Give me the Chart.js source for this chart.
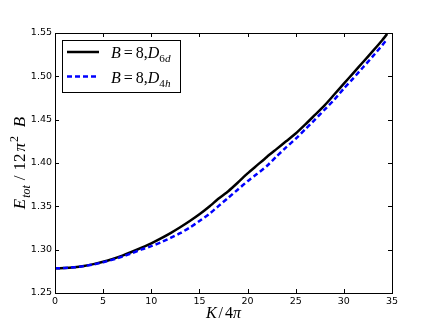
<!DOCTYPE html>
<html lang="en">
<head>
  <meta charset="UTF-8">
  <title>Energy vs K</title>
  <script src="https://cdn.jsdelivr.net/npm/chart.js"></script>
  <style>
    body { margin: 0; background: #fff; }
    #wrap { width: 436px; height: 327px; position: relative; }
  </style>
</head>
<body>
  <div id="wrap"><canvas id="chart" width="436" height="327"></canvas></div>

  <script>
    // K/4pi values (x axis)
    const kValues = [0, 1, 2, 3, 4, 5, 6, 7, 8, 9, 10, 11, 12, 13, 14, 15, 16, 17, 18,
                     19, 20, 21, 22, 23, 24, 25, 26, 27, 28, 29, 30, 31, 32, 33, 34, 34.5];
    // B=8, D6d (black solid)
    const d6dValues = [1.2785, 1.2788, 1.2797, 1.2812, 1.2833, 1.2860, 1.2893, 1.2932, 1.2976, 1.3023,
                       1.3073, 1.3130, 1.3191, 1.3258, 1.3330, 1.3408, 1.3495, 1.3590, 1.3675, 1.3775,
                       1.3880, 1.3975, 1.4070, 1.4160, 1.4250, 1.4340, 1.4445, 1.4555, 1.4665, 1.4790,
                       1.4915, 1.5040, 1.5165, 1.5290, 1.5420, 1.5490];
    // B=8, D4h (blue dashed)
    const d4hValues = [1.2785, 1.2788, 1.2796, 1.2810, 1.2830, 1.2855, 1.2885, 1.2920, 1.2960, 1.3003,
                       1.3040, 1.3085, 1.3135, 1.3190, 1.3255, 1.3330, 1.3410, 1.3505, 1.3600, 1.3695,
                       1.3790, 1.3875, 1.3965, 1.4075, 1.4180, 1.4280, 1.4390, 1.4500, 1.4615, 1.4730,
                       1.4860, 1.4980, 1.5105, 1.5230, 1.5360, 1.5430];
    const yTicks = [1.25, 1.30, 1.35, 1.40, 1.45, 1.50, 1.55];
    const xTicks = [0, 5, 10, 15, 20, 25, 30, 35];

    const toPoints = (ys) => kValues.map((k, i) => ({ x: k, y: ys[i] }));

    const SERIF = '"Liberation Serif", "DejaVu Serif", serif';

    // draw a run of text pieces: {t, it, sub, sup, gap}
    function drawRich(ctx, parts, x, y, size) {
      let cx = x;
      parts.forEach(p => {
        const s = (p.sub || p.sup) ? size * 0.7 : size;
        ctx.font = (p.it ? 'italic ' : '') + s + 'px ' + SERIF;
        let dy = 0;
        if (p.sub) dy = size * 0.28;
        if (p.sup) dy = -size * 0.4;
        ctx.fillText(p.t, cx, y + dy);
        cx += ctx.measureText(p.t).width + (p.gap || 0);
      });
      return cx - x;
    }
    function richWidth(ctx, parts, size) {
      let w = 0;
      parts.forEach(p => {
        const s = (p.sub || p.sup) ? size * 0.7 : size;
        ctx.font = (p.it ? 'italic ' : '') + s + 'px ' + SERIF;
        w += ctx.measureText(p.t).width + (p.gap || 0);
      });
      return w;
    }

    const legendItems = [
      { color: '#000000', dash: [], label: [
        { t: 'B', it: true, gap: 3 }, { t: '=', gap: 3 }, { t: '8,' }, { t: 'D', it: true, gap: 0 },
        { t: '6', sub: true }, { t: 'd', it: true, sub: true }] },
      { color: '#0000ff', dash: [5, 3], label: [
        { t: 'B', it: true, gap: 3 }, { t: '=', gap: 3 }, { t: '8,' }, { t: 'D', it: true, gap: 0 },
        { t: '4', sub: true }, { t: 'h', it: true, sub: true }] }
    ];

    const framePlugin = {
      id: 'frame',
      afterDraw(chart) {
        const ctx = chart.ctx;
        const a = chart.chartArea;
        const xs = chart.scales.x, ys = chart.scales.y;
        ctx.save();
        ctx.strokeStyle = '#000';
        ctx.lineWidth = 1;
        ctx.strokeRect(Math.round(a.left) + 0.5, Math.round(a.top) + 0.5,
                       Math.round(a.right - a.left), Math.round(a.bottom - a.top));
        // inward ticks on all four sides
        ctx.beginPath();
        xTicks.forEach(v => {
          const px = Math.round(xs.getPixelForValue(v)) + 0.5;
          ctx.moveTo(px, a.bottom); ctx.lineTo(px, a.bottom - 4);
          ctx.moveTo(px, a.top); ctx.lineTo(px, a.top + 4);
        });
        yTicks.forEach(v => {
          const py = Math.round(ys.getPixelForValue(v)) + 0.5;
          ctx.moveTo(a.left, py); ctx.lineTo(a.left + 4, py);
          ctx.moveTo(a.right, py); ctx.lineTo(a.right - 4, py);
        });
        ctx.stroke();

        // legend
        const lx = 62, ly = 40, lw = 118, lh = 52;
        ctx.fillStyle = '#fff';
        ctx.fillRect(lx, ly, lw, lh);
        ctx.strokeRect(lx + 0.5, ly + 0.5, lw, lh);
        legendItems.forEach((it, i) => {
          const y = 52 + i * 24.5;
          ctx.strokeStyle = it.color;
          ctx.lineWidth = 2.5;
          ctx.setLineDash(it.dash);
          ctx.beginPath(); ctx.moveTo(67, y); ctx.lineTo(99, y); ctx.stroke();
          ctx.setLineDash([]);
          ctx.fillStyle = '#000';
          ctx.textBaseline = 'alphabetic';
          drawRich(ctx, it.label, 111, y + 6, 16);
        });

        // x axis title
        const xt = [{ t: 'K', it: true, gap: 2 }, { t: '/', gap: 2 }, { t: '4' }, { t: 'π', it: true }];
        const xw = richWidth(ctx, xt, 16);
        ctx.fillStyle = '#000';
        drawRich(ctx, xt, (a.left + a.right) / 2 - xw / 2, 318, 16);

        // y axis title (rotated)
        const yt = [{ t: 'E', it: true, gap: 1 }, { t: 'tot', it: true, sub: true, gap: 5 }, { t: '/', gap: 5 },
                    { t: '12', gap: 2 }, { t: 'π', it: true, gap: 1 }, { t: '2', sup: true, gap: 9 },
                    { t: 'B', it: true }];
        const yw = richWidth(ctx, yt, 17);
        ctx.translate(25, (a.top + a.bottom) / 2);
        ctx.rotate(-Math.PI / 2);
        drawRich(ctx, yt, -yw / 2, 0, 17);
        ctx.restore();
      }
    };

    new Chart(document.getElementById('chart'), {
      type: 'line',
      data: {
        datasets: [
          {
            label: 'B=8, D4h',
            data: toPoints(d4hValues),
            borderColor: '#0000ff',
            borderWidth: 2.5,
            borderDash: [5, 3],
            pointRadius: 0,
            fill: false,
            tension: 0.2,
            order: 1
          },
          {
            label: 'B=8, D6d',
            data: toPoints(d6dValues),
            borderColor: '#000000',
            borderWidth: 2.5,
            pointRadius: 0,
            fill: false,
            tension: 0.2,
            order: 2
          }
        ]
      },
      options: {
        responsive: false,
        animation: false,
        devicePixelRatio: 1,
        layout: { padding: { top: 33, right: 44, left: 0, bottom: 0 } },
        plugins: { legend: { display: false }, tooltip: { enabled: false } },
        scales: {
          x: {
            type: 'linear',
            min: 0, max: 35,
            afterBuildTicks: s => { s.ticks = xTicks.map(v => ({ value: v })); },
            afterFit: s => { s.height = 34; },
            grid: { display: false, drawTicks: false },
            border: { display: false },
            ticks: { color: '#000', padding: 3, font: { family: '"DejaVu Sans"', size: 9.5 },
                     maxRotation: 0, callback: v => String(v) }
          },
          y: {
            type: 'linear',
            min: 1.25, max: 1.55,
            afterBuildTicks: s => { s.ticks = yTicks.map(v => ({ value: v })); },
            afterFit: s => { s.width = 55; },
            grid: { display: false, drawTicks: false },
            border: { display: false },
            ticks: { color: '#000', padding: 3, font: { family: '"DejaVu Sans"', size: 9.5 },
                     callback: v => Number(v).toFixed(2) }
          }
        }
      },
      plugins: [framePlugin]
    });
  </script>
</body>
</html>
